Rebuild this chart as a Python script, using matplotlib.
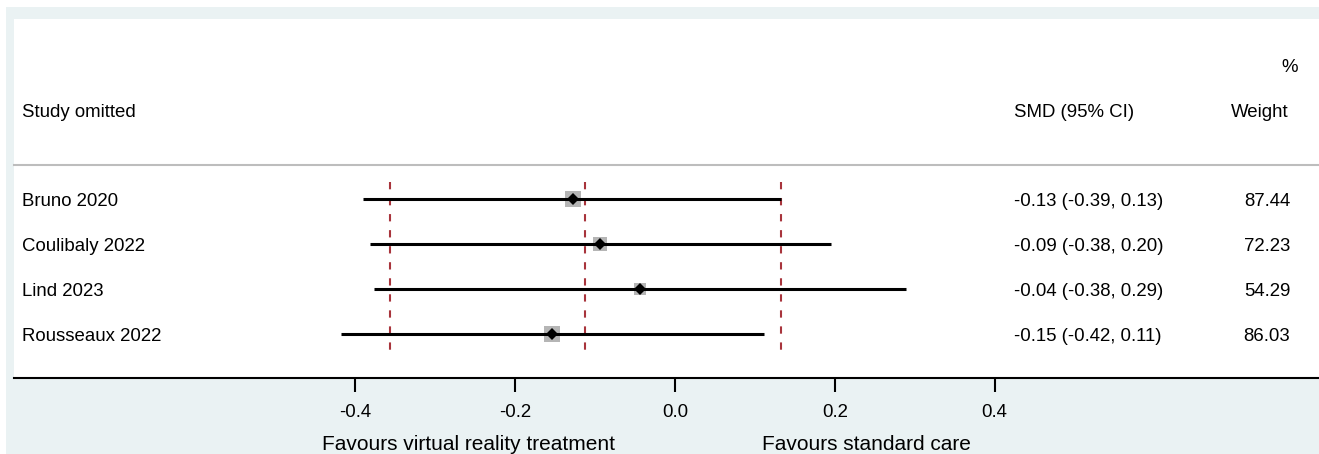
import numpy as np
import matplotlib
matplotlib.use("Agg")
import matplotlib.pyplot as plt
from matplotlib.patches import Rectangle
from matplotlib.lines import Line2D
from matplotlib import transforms

plt.rcParams['font.family'] = ['Liberation Sans', 'DejaVu Sans']
plt.rcParams['axes.unicode_minus'] = False

# ---------------- data ----------------
studies = ["Bruno 2020", "Coulibaly 2022", "Lind 2023", "Rousseaux 2022"]
smd = [-0.128, -0.094, -0.044, -0.154]
ci_low = [-0.390, -0.382, -0.376, -0.418]
ci_high = [0.133, 0.195, 0.289, 0.111]
weights = [87.44, 72.23, 54.29, 86.03]
smd_labels = ["-0.13 (-0.39, 0.13)", "-0.09 (-0.38, 0.20)",
              "-0.04 (-0.38, 0.29)", "-0.15 (-0.42, 0.11)"]
weight_labels = ["87.44", "72.23", "54.29", "86.03"]
overall_est = -0.112
overall_low = -0.357
overall_high = 0.133
xticks = [-0.4, -0.2, 0.0, 0.2, 0.4]
xtick_labels = ["-0.4", "-0.2", "0.0", "0.2", "0.4"]

# ---------------- layout ----------------
W, H = 1319, 454
fig = plt.figure(figsize=(W / 100, H / 100), dpi=100)
fig.patch.set_facecolor("white")

def fx(px):
    return px / W

def fy(py):
    return 1 - py / H

BG = "#eaf2f3"
fig.add_artist(Rectangle((fx(6), 0), 1.02 - fx(6), fy(7), transform=fig.transFigure,
                         facecolor=BG, edgecolor="none", zorder=-2))
fig.add_artist(Rectangle((fx(14), fy(378)), 1.02 - fx(14), fy(19) - fy(378),
                         transform=fig.transFigure, facecolor="white",
                         edgecolor="none", zorder=-1))

ax = fig.add_axes([0, 0, 1, 1])
ax.patch.set_visible(False)
px0, ppu = 674.9, 799.0
y0, rs = 199.0, 44.9
ax.set_xlim(-px0 / ppu, (W - px0) / ppu)
ax.set_ylim((H - y0) / rs, -y0 / rs)

def row_of(py):
    return (py - y0) / rs

rows = np.arange(len(studies))

# header separator
fig.add_artist(Line2D([fx(14), 1.02], [fy(165), fy(165)], transform=fig.transFigure,
                      color="#bdbdbd", lw=1.5, zorder=1))

# dashed overall lines
for v in [overall_low, overall_est, overall_high]:
    ax.plot([v, v], [row_of(181.5), row_of(355.5)], color="#a8343c", lw=1.5,
            linestyle=(0, (3.5, 4.2)), zorder=2, solid_capstyle="butt",
            dash_capstyle="butt")

# weight squares, CI lines, diamonds
for i in rows:
    ax.plot(smd[i], i, marker="s", ms=np.sqrt(weights[i]) * 1.23,
            color="#b5b5b5", mew=0, zorder=3, linestyle="none")
    ax.plot([ci_low[i], ci_high[i]], [i, i], color="black", lw=2.2,
            solid_capstyle="butt", zorder=4)
    ax.plot(smd[i], i, marker="D", ms=6.5, color="black", mew=0, zorder=5,
            linestyle="none")

# axis
for s in ["top", "left", "right"]:
    ax.spines[s].set_visible(False)
ax.spines["bottom"].set_position(("data", row_of(378)))
ax.spines["bottom"].set_bounds(-(px0 - 14) / ppu, (W - px0) / ppu)
ax.spines["bottom"].set_linewidth(1.5)
ax.set_xticks(xticks)
ax.set_xticklabels(xtick_labels)
ax.tick_params(axis="x", direction="out", length=10, width=1.5, pad=8.5,
               labelsize=13.4)
ax.set_yticks([])

# text
fs = 13.4
blend = transforms.blended_transform_factory(ax.transAxes, ax.transData)
blend = transforms.offset_copy(blend, fig=fig, y=-2.5, units="dots")
for i in rows:
    ax.text(fx(21.5), i, studies[i], transform=blend, ha="left", va="center", fontsize=fs)
    ax.text(fx(1014.5), i, smd_labels[i], transform=blend, ha="left", va="center", fontsize=fs)
    ax.text(fx(1290.5), i, weight_labels[i], transform=blend, ha="right", va="center", fontsize=fs)

fig.text(fx(21.5), fy(112.5), "Study omitted", ha="left", va="center", fontsize=fs)
fig.text(fx(1014.5), fy(112.5), "SMD (95% CI)", ha="left", va="center", fontsize=fs)
fig.text(fx(1288.5), fy(112.5), "Weight", ha="right", va="center", fontsize=fs)
fig.text(fx(1298), fy(68), "%", ha="right", va="center", fontsize=fs)

fig.text(fx(321.5), fy(445), "Favours virtual reality treatment", ha="left",
         va="center", fontsize=15)
fig.text(fx(762), fy(445), "Favours standard care", ha="left",
         va="center", fontsize=15)

fig.savefig("out.png", dpi=100)
